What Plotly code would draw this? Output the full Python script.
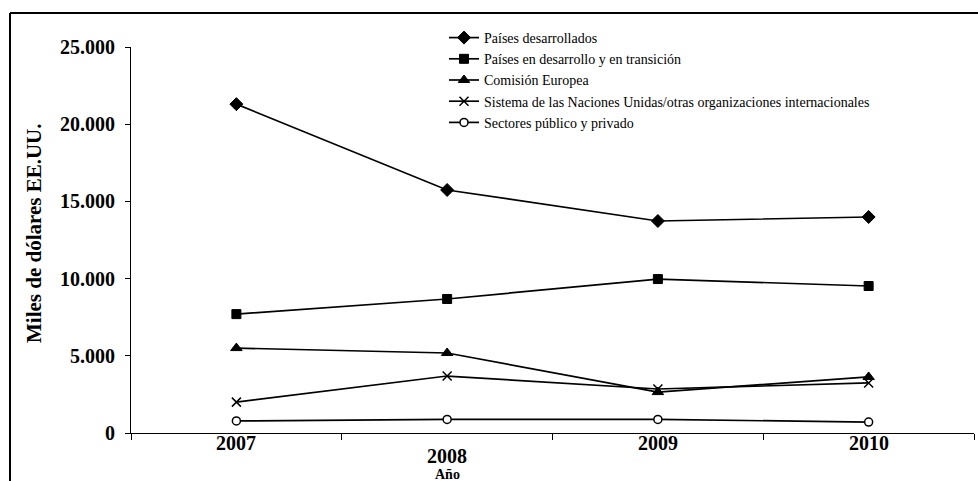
import plotly.graph_objects as go

years = ["2007", "2008", "2009", "2010"]
series_names = [
    "Países desarrollados",
    "Países en desarrollo y en transición",
    "Comisión Europea",
    "Sistema de las Naciones Unidas/otras organizaciones internacionales",
    "Sectores público y privado",
]
desarrollados = [21300, 15740, 13730, 13990]
en_desarrollo = [7700, 8680, 9970, 9520]
comision = [5500, 5180, 2650, 3630]
onu = [2000, 3690, 2850, 3240]
sectores = [780, 880, 880, 710]
y_ticks = [0, 5000, 10000, 15000, 20000, 25000]
y_tick_labels = ["0", "5.000", "10.000", "15.000", "20.000", "25.000"]

W, H = 978, 481
L, R, T, B = 131, 4, 47, 48
pw = W - L - R
ph = H - T - B

def px(x):
    return (x - L) / pw

def py(y):
    return (H - B - y) / ph

styles = [
    dict(symbol="diamond", size=10, color="black", line=dict(color="black", width=1)),
    dict(symbol="square", size=9, color="black", line=dict(color="black", width=1)),
    dict(symbol="triangle-up", size=10, color="black", line=dict(color="black", width=1)),
    dict(symbol="x-thin", size=9, color="black", line=dict(color="black", width=1.5)),
    dict(symbol="circle", size=8, color="white", line=dict(color="black", width=1.5)),
]
data = [desarrollados, en_desarrollo, comision, onu, sectores]

fig = go.Figure()
for name, vals, mk in zip(series_names, data, styles):
    fig.add_trace(go.Scatter(
        x=years, y=vals, name=name, mode="lines+markers",
        line=dict(color="black", width=1.7), marker=mk,
    ))

serif = "Liberation Serif"

fig.update_layout(
    width=W, height=H,
    margin=dict(l=L, r=R, t=T, b=B),
    paper_bgcolor="white", plot_bgcolor="white",
    font=dict(family=serif, color="black"),
    showlegend=True,
    legend=dict(
        x=px(444), y=py(22), xanchor="left", yanchor="top",
        font=dict(family=serif, size=14, color="black"),
        bgcolor="rgba(0,0,0,0)", tracegroupgap=0,
        itemsizing="trace",
    ),
    xaxis=dict(
        type="category", categoryorder="array", categoryarray=years,
        range=[-0.5, 3.5], tickson="boundaries",
        ticks="outside", ticklen=6, tickwidth=1, tickcolor="black",
        showticklabels=False, showline=True, linecolor="black", linewidth=1,
        showgrid=False, zeroline=False, fixedrange=True,
    ),
    yaxis=dict(
        range=[0, 25000], tickvals=y_ticks, ticktext=y_tick_labels,
        ticks="outside", ticklen=5, tickwidth=1, tickcolor="black",
        tickfont=dict(family=serif, size=20, color="black", weight="bold"),
        ticklabelstandoff=6,
        showline=True, linecolor="black", linewidth=1,
        showgrid=False, zeroline=False,
    ),
)

shifts = [-10, -23, -10, -10]
annotations = []
for i, yr in enumerate(years):
    annotations.append(dict(
        x=i, xref="x", y=0, yref="paper", yanchor="middle", yshift=shifts[i],
        text=f"<b>{yr}</b>", showarrow=False,
        font=dict(family=serif, size=20, color="black"),
    ))
annotations.append(dict(
    x=px(447), xref="paper", y=py(474), yref="paper", yanchor="middle",
    text="<b>Año</b>", showarrow=False,
    font=dict(family=serif, size=14, color="black"),
))
annotations.append(dict(
    x=px(34), xref="paper", y=py(233), yref="paper", xanchor="center", yanchor="middle",
    text="<b>Miles de dólares EE.UU.</b>", textangle=-90, showarrow=False,
    font=dict(family=serif, size=21, color="black"),
))
fig.update_layout(annotations=annotations)

fig.update_layout(shapes=[
    dict(type="line", xref="paper", yref="paper", x0=px(10), x1=px(980), y0=py(13), y1=py(13),
         line=dict(color="black", width=2)),
    dict(type="line", xref="paper", yref="paper", x0=px(10), x1=px(10), y0=py(13), y1=py(490),
         line=dict(color="black", width=2)),
])

fig.write_html(
    "out.html",
    config={"displayModeBar": False},
    post_script="document.body.style.margin='0';document.body.style.overflow='hidden';",
)
